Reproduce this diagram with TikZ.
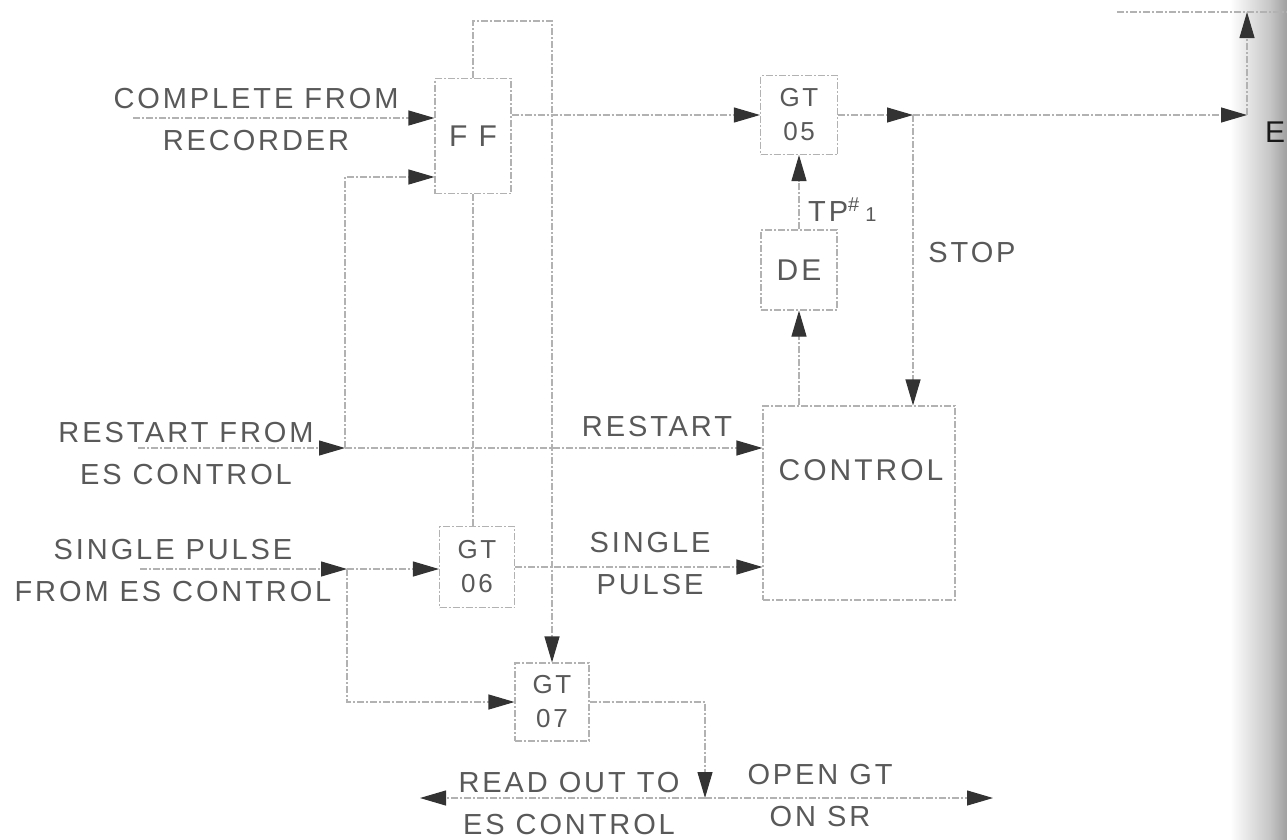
\documentclass[tikz,border=0pt]{standalone}
\usepackage{fontspec}
\newfontfamily\lettering[LetterSpace=10]{Liberation Sans}
\usetikzlibrary{arrows.meta,calc}
\begin{document}
\begin{tikzpicture}[x=1pt,y=-1pt,
  conn/.style={draw=gray!60, line width=1.1pt, dash pattern=on 7pt off 2pt on 2pt off 2pt},
  arr/.style={conn, -{Triangle[length=26pt,width=15pt,color=black!80]}},
  blk/.style={draw=gray!60, line width=1.1pt, dash pattern=on 7pt off 2pt on 2pt off 2pt,
    inner sep=0pt, align=center, text=black!65, font=\lettering\fontsize{26}{34}\selectfont},
  lbl/.style={inner sep=0pt, align=center, text=black!65, font=\lettering\fontsize{29}{42}\selectfont}
]
\useasboundingbox (0,0) rectangle (1287,839);
\fill[white] (0,0) rectangle (1287,839);
\shade[left color=white, right color=gray!45] (1230,0) rectangle (1270,839);
\shade[left color=gray!45, right color=gray!75] (1270,0) rectangle (1287,839);

% blocks
\node[blk, minimum width=76pt, minimum height=115pt, font=\lettering\fontsize{30}{34}\selectfont] (ff) at (473,136) {F F};
\node[blk, minimum width=77pt, minimum height=79pt] (gt05) at (799,115) {GT\\05};
\node[blk, minimum width=76pt, minimum height=80pt, font=\lettering\fontsize{30}{34}\selectfont] (de) at (799,270) {DE};
\node[blk, minimum width=192pt, minimum height=194pt] (ctl) at (859,503) {};
\node[lbl, font=\lettering\fontsize{30}{34}\selectfont] (ctltext) at (861,470) {CONTROL};
\node[blk, minimum width=75pt, minimum height=81pt] (gt06) at (477,567) {GT\\06};
\node[blk, minimum width=74pt, minimum height=78pt] (gt07) at (552,702) {GT\\07};

% labels
\node[lbl] (lcomp) at (256,120) {COMPLETE FROM\\RECORDER};
\node[lbl] (lrest) at (186,454) {RESTART FROM\\ES CONTROL};
\node[lbl] (lsing) at (173,571) {SINGLE PULSE\\FROM ES CONTROL};
\node[lbl] (lread) at (569,804) {READ OUT TO\\ES CONTROL};
\node[lbl] (lopen) at (820,796) {OPEN GT\\ON SR};
\node[lbl] (lsp) at (650,564) {SINGLE\\PULSE};
\node[lbl] (lrs) at (657,427) {RESTART};
\node[lbl] (lstop) at (972,253) {STOP};
\node[lbl, anchor=west] (ltp) at (808,210) {TP\raisebox{10pt}{\fontsize{20}{20}\selectfont\#}\hspace{6pt}\raisebox{0pt}{\fontsize{20}{20}\selectfont 1}};
\node[lbl, text=black!90, font=\lettering\fontsize{30}{34}\selectfont] (le) at (1275,132) {E};

% coordinates
\coordinate (cin) at (133,118);
\coordinate (j1) at (913,115);
\coordinate (j2) at (1247,115);
\coordinate (j3) at (1247,12);
\coordinate (t1) at (1117,12);
\coordinate (t2) at (1287,12);
\coordinate (ltop) at (552,21);
\coordinate (rin) at (138,448);
\coordinate (jr) at (345,448);
\coordinate (fbc) at (345,177);
\coordinate (sin) at (140,569);
\coordinate (js) at (347,569);
\coordinate (jo) at (705,798);
\coordinate (ro) at (420,798);
\coordinate (oo) at (993,798);

% connectors
\draw[arr] (cin) -- (cin -| ff.west);
\draw[arr] (ff.east |- gt05.west) -- (gt05.west);
\draw[arr] (gt05.east) -- (j1);
\draw[arr] (j1) -- (j2);
\draw[arr] (j2) -- (j3);
\draw[conn] (t1) -- (t2);
\draw[arr] (j1) -- (j1 |- ctl.north);
\draw[arr] (de.north) -- (gt05.south);
\draw[arr] (de.south |- ctl.north) -- (de.south);
\draw[arr] (ff.north) |- (ltop) -- (gt07.north);
\draw[arr] (rin) -- (jr);
\draw[arr] (jr) -- (jr -| ctl.west);
\draw[arr] (jr) -- (fbc) -- (fbc -| ff.west);
\draw[conn] (ff.south) -- (ff.south |- gt06.north);
\draw[arr] (sin) -- (js);
\draw[arr] (js) -- (js -| gt06.west);
\draw[arr] (js) |- (gt07.west);
\draw[arr] (gt06.east) -- (gt06.east -| ctl.west);
\draw[arr] (gt07.east) -| (jo);
\draw[arr] (jo) -- (ro);
\draw[arr] (jo) -- (oo);
\end{tikzpicture}
\end{document}
